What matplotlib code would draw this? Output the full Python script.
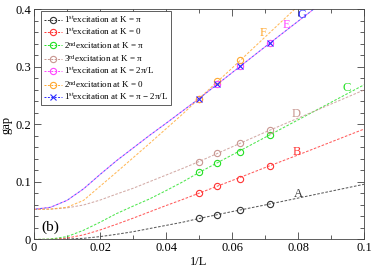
import matplotlib
matplotlib.use('Agg')
import matplotlib.pyplot as plt
from matplotlib.lines import Line2D
from matplotlib.ticker import MultipleLocator

plt.rcParams['font.family'] = ['Liberation Serif', 'DejaVu Serif']
plt.rcParams['mathtext.fontset'] = 'custom'
plt.rcParams['mathtext.rm'] = 'Liberation Serif'
plt.rcParams['mathtext.it'] = 'Liberation Serif:italic'

# data points (1/L for L = 20, 18, 16, 14)
inv_L = [1/20, 1/18, 1/16, 1/14]
gap_A = [0.0369, 0.0426, 0.0513, 0.0617]
gap_B = [0.0803, 0.0930, 0.1047, 0.1280]
gap_C = [0.1169, 0.1336, 0.1530, 0.1817]
gap_D = [0.1353, 0.1500, 0.1670, 0.1904]
gap_E = [0.2450, 0.2704, 0.3015, 0.3410]
gap_F = [0.2450, 0.2750, 0.3120]
gap_G = [0.2450, 0.2704, 0.3015, 0.3410]

# fitted curves
fit_x = [0, 0.005, 0.01, 0.015, 0.02, 0.025, 0.03, 0.035, 0.04, 0.045, 0.05,
         0.06, 0.07, 0.08, 0.09, 0.1]
fit_A = [0, 0.0, 0.0008, 0.002, 0.005, 0.009, 0.0135, 0.019, 0.0245, 0.030, 0.0365,
         0.0485, 0.060, 0.072, 0.084, 0.096]
fit_B = [0, 0.0003, 0.0025, 0.008, 0.0165, 0.0265, 0.037, 0.048, 0.059, 0.0695, 0.0805,
         0.1025, 0.125, 0.147, 0.1695, 0.192]
fit_C = [0, 0.0008, 0.005, 0.016, 0.030, 0.045, 0.058, 0.0705, 0.085, 0.100, 0.1165,
         0.147, 0.1775, 0.208, 0.2385, 0.269]
fit_D = [0.0525, 0.0527, 0.055, 0.060, 0.0685, 0.079, 0.089, 0.1005, 0.112, 0.1235, 0.1355,
         0.161, 0.1865, 0.211, 0.2355, 0.260]
fit_F = [0.0525, 0.053, 0.056, 0.068, 0.0925, 0.117, 0.142, 0.167, 0.1925, 0.218, 0.245,
         0.298, 0.352, 0.406]
fit_EG = [0.0525, 0.056, 0.068, 0.088, 0.113, 0.137, 0.159, 0.181, 0.202, 0.2235, 0.245,
          0.290, 0.335, 0.3795, 0.424]

labels = ['1$^{\\mathrm{st}}$excitation at K = \u03c0',
          '1$^{\\mathrm{st}}$excitation at K = 0',
          '2$^{\\mathrm{nd}}$excitation at K = \u03c0',
          '3$^{\\mathrm{rd}}$excitation at K = \u03c0',
          '1$^{\\mathrm{st}}$excitation at K = 2\u03c0/L',
          '2$^{\\mathrm{nd}}$excitation at K = 0',
          '1$^{\\mathrm{st}}$excitation at K = \u03c0 \u2212 2\u03c0/L']
letters = ['A', 'B', 'C', 'D', 'E', 'F', 'G']
letter_x = [0.080, 0.0797, 0.0949, 0.0793, 0.0766, 0.0693, 0.0811]
letter_y = [0.079, 0.1527, 0.263, 0.2183, 0.373, 0.3586, 0.391]

colors = ['#333333', '#ff3333', '#22e022', '#c89690', '#ff44ff', '#ffa830', '#2a2aff']

fig = plt.figure(figsize=(3.74, 2.69), dpi=100)
ax = fig.add_axes([0.0909, 0.1097, 0.8824, 0.855])

series = [(inv_L, gap_A, fit_x, fit_A), (inv_L, gap_B, fit_x, fit_B),
          (inv_L, gap_C, fit_x, fit_C), (inv_L, gap_D, fit_x, fit_D),
          (inv_L, gap_E, fit_x[:15], fit_EG), (inv_L[:3], gap_F, fit_x[:14], fit_F),
          (inv_L, gap_G, fit_x[:15], fit_EG)]

handles = []
for i, (px, py, fx, fy) in enumerate(series):
    c = colors[i]
    ls = (2.0, (2.0, 2.0)) if i == 6 else (0, (2.0, 2.0)) if i == 4 else (0, (2.5, 1.5))
    ax.plot(fx, fy, color=c, lw=0.75, ls=ls, alpha=0.8, zorder=2)
    mk = 'x' if i == 6 else 'o'
    ax.plot(px, py, ls='none', marker=mk, ms=4.5, mfc='none', mec=c, mew=0.8, zorder=3)
    handles.append(Line2D([], [], color=c, lw=0.7, ls=(0, (2.0, 1.5)), marker=mk, ms=4.5,
                          mfc='none', mec=c, mew=0.8))
    ax.text(letter_x[i], letter_y[i], letters[i], color=c, fontsize=9,
            ha='center', va='center')

ax.text(0.0048, 0.022, '(b)', fontsize=11, ha='center', va='center')

ax.set_xlim(0, 0.1)
ax.set_ylim(0, 0.4)
ax.xaxis.set_minor_locator(MultipleLocator(0.01))
ax.yaxis.set_minor_locator(MultipleLocator(0.02))
ax.set_xticks([0, 0.02, 0.04, 0.06, 0.08, 0.1])
ax.set_xticklabels(['0', '0.02', '0.04', '0.06', '0.08', '0.1'])
ax.set_yticks([0, 0.1, 0.2, 0.3, 0.4])
ax.set_yticklabels(['0', '0.1', '0.2', '0.3', '0.4'])
ax.tick_params(which='both', direction='in', top=True, right=True, labelsize=9,
               width=0.6, color='#444444')
ax.tick_params(which='major', length=5, pad=2)
ax.tick_params(which='minor', length=3)
for s in ax.spines.values():
    s.set_linewidth(0.6)
    s.set_color('#444444')

ax.set_xlabel('1/L', fontsize=9, labelpad=1)
ax.set_ylabel('gap', fontsize=9, labelpad=2)

leg = ax.legend(handles, labels, loc='upper left', bbox_to_anchor=(0.02, 0.992),
                borderaxespad=0, fontsize=6.5, frameon=True, fancybox=False,
                framealpha=1, edgecolor='#444444', handlelength=2.0,
                handletextpad=0.2, labelspacing=0.25, borderpad=0.35)
leg.get_frame().set_linewidth(0.6)

fig.savefig('out.png', dpi=100)
